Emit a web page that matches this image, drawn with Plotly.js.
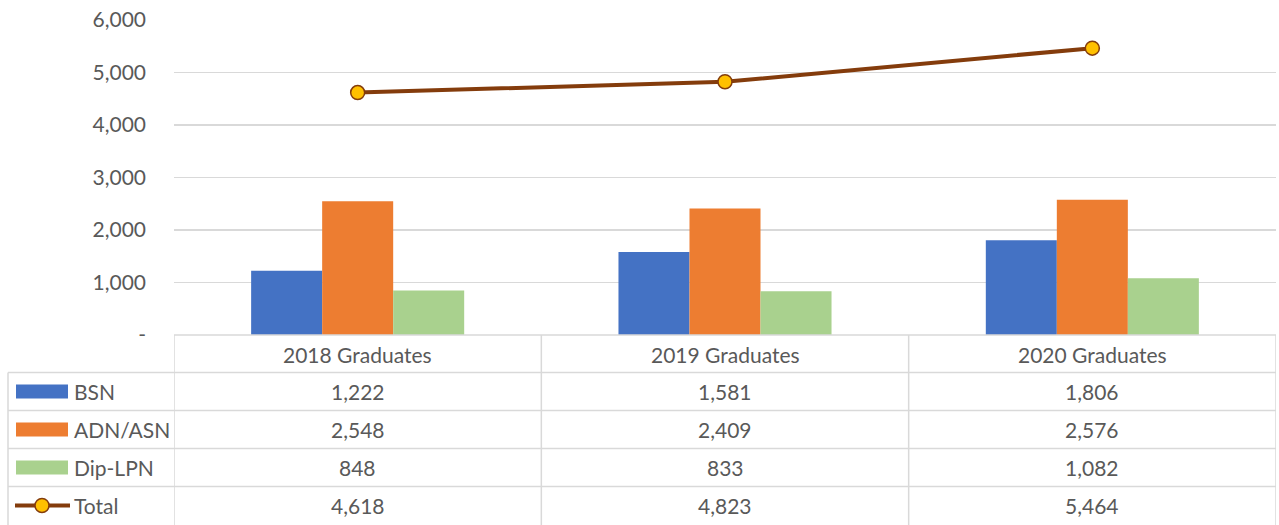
<!DOCTYPE html>
<html><head><meta charset="utf-8">
<script src="https://cdn.plot.ly/plotly-3.0.1.min.js"></script>
<style>html,body{margin:0;padding:0;background:#fff;}#chart{width:1279px;height:525px;}</style>
</head><body><div id="chart"></div>
<script>
const categories = ["2018 Graduates", "2019 Graduates", "2020 Graduates"];
const seriesNames = ["BSN", "ADN/ASN", "Dip-LPN", "Total"];
const bsn = [1222, 1581, 1806];
const adn = [2548, 2409, 2576];
const dip = [848, 833, 1082];
const total = [4618, 4823, 5464];
const yTickVals = [0, 1000, 2000, 3000, 4000, 5000, 6000];

const colors = ["#4472C4", "#ED7D31", "#A9D18E"];
const lineColor = "#843C0C";
const markerFill = "#FFC000";
const FONT = "Lato, 'Open Sans', sans-serif";
const FS = 21;
const textColor = "#595959";
const gridColor = "#D9D9D9";

const W = 1279, H = 525;
const L = 174, R = 1276, T = 20, B = 335;
const px = x => (x - L) / (R - L);
const py = y => (B - y) / (B - T);

const barData = [bsn, adn, dip];
const traces = barData.map((vals, i) => ({
  type: "bar", x: categories, y: vals, name: seriesNames[i],
  marker: {color: colors[i]}, hoverinfo: "y+name"
}));
traces.push({
  type: "scatter", mode: "lines+markers", x: categories, y: total, name: seriesNames[3],
  line: {color: lineColor, width: 4},
  marker: {color: markerFill, size: 14, line: {color: lineColor, width: 1.5}}
});

const fmt = v => v.toLocaleString("en-US");
const shapes = [];
const annotations = [];
const lineStyle = {color: gridColor, width: 1.5};
const rowsY = [335, 372.5, 410.5, 448.5, 486.5];
rowsY.forEach((y, i) => {
  shapes.push({type: "line", xref: "paper", yref: "paper", x0: px(i === 0 ? L : 8), x1: px(R), y0: py(y), y1: py(y), line: lineStyle, layer: "above"});
});
shapes.push({type: "line", xref: "paper", yref: "paper", x0: px(8), x1: px(8), y0: py(372.5), y1: py(H + 2), line: lineStyle});
[-0.5, 0.5, 1.5, 2.5].forEach(xv => {
  shapes.push({type: "line", xref: "x", yref: "paper", x0: xv, x1: xv, y0: py(335), y1: py(H + 2), line: lineStyle});
});
categories.forEach((c, i) => {
  annotations.push({xref: "x", yref: "paper", x: i, y: py(354), text: c, showarrow: false, font: {family: FONT, size: FS, color: textColor}, xanchor: "center", yanchor: "middle"});
});
const rowCenters = [391.5, 429.5, 467.5, 505.5];
const allRows = [bsn, adn, dip, total];
allRows.forEach((vals, r) => {
  vals.forEach((v, i) => {
    annotations.push({xref: "x", yref: "paper", x: i, y: py(rowCenters[r]), text: fmt(v), showarrow: false, font: {family: FONT, size: FS, color: textColor}, xanchor: "center", yanchor: "middle"});
  });
  annotations.push({xref: "paper", yref: "paper", x: px(72), y: py(rowCenters[r]), text: seriesNames[r], showarrow: false, font: {family: FONT, size: FS, color: textColor}, xanchor: "left", yanchor: "middle"});
  if (r < 3) {
    shapes.push({type: "rect", xref: "paper", yref: "paper", x0: px(16), x1: px(68), y0: py(rowCenters[r] - 7), y1: py(rowCenters[r] + 7), fillcolor: colors[r], line: {width: 0}});
  } else {
    shapes.push({type: "line", xref: "paper", yref: "paper", x0: px(15), x1: px(70), y0: py(rowCenters[r]), y1: py(rowCenters[r]), line: {color: lineColor, width: 4}});
    shapes.push({type: "circle", xref: "paper", yref: "paper", x0: px(35), x1: px(49), y0: py(rowCenters[r] - 7), y1: py(rowCenters[r] + 7), fillcolor: markerFill, line: {color: lineColor, width: 1.5}});
  }
});

const layout = {
  width: W, height: H,
  margin: {l: L, r: W - R, t: T, b: H - B, pad: 0},
  paper_bgcolor: "#fff", plot_bgcolor: "#fff",
  showlegend: false,
  barmode: "group", bargap: 0.42, bargroupgap: 0,
  font: {family: FONT, color: textColor, size: FS},
  xaxis: {showticklabels: false, showgrid: false, zeroline: false, showline: false, ticks: "", range: [-0.5, 2.5], fixedrange: true},
  yaxis: {range: [0, 6000], tickvals: yTickVals, ticktext: yTickVals.map(v => v === 0 ? "-" : fmt(v)),
          showgrid: true, gridcolor: gridColor, gridwidth: 1.5, zeroline: false, showline: false, ticks: "",
          ticklabelstandoff: 27, tickfont: {family: FONT, size: FS, color: textColor}},
  shapes: shapes, annotations: annotations
};
Plotly.newPlot("chart", traces, layout, {displayModeBar: false, staticPlot: true});
</script></body></html>
